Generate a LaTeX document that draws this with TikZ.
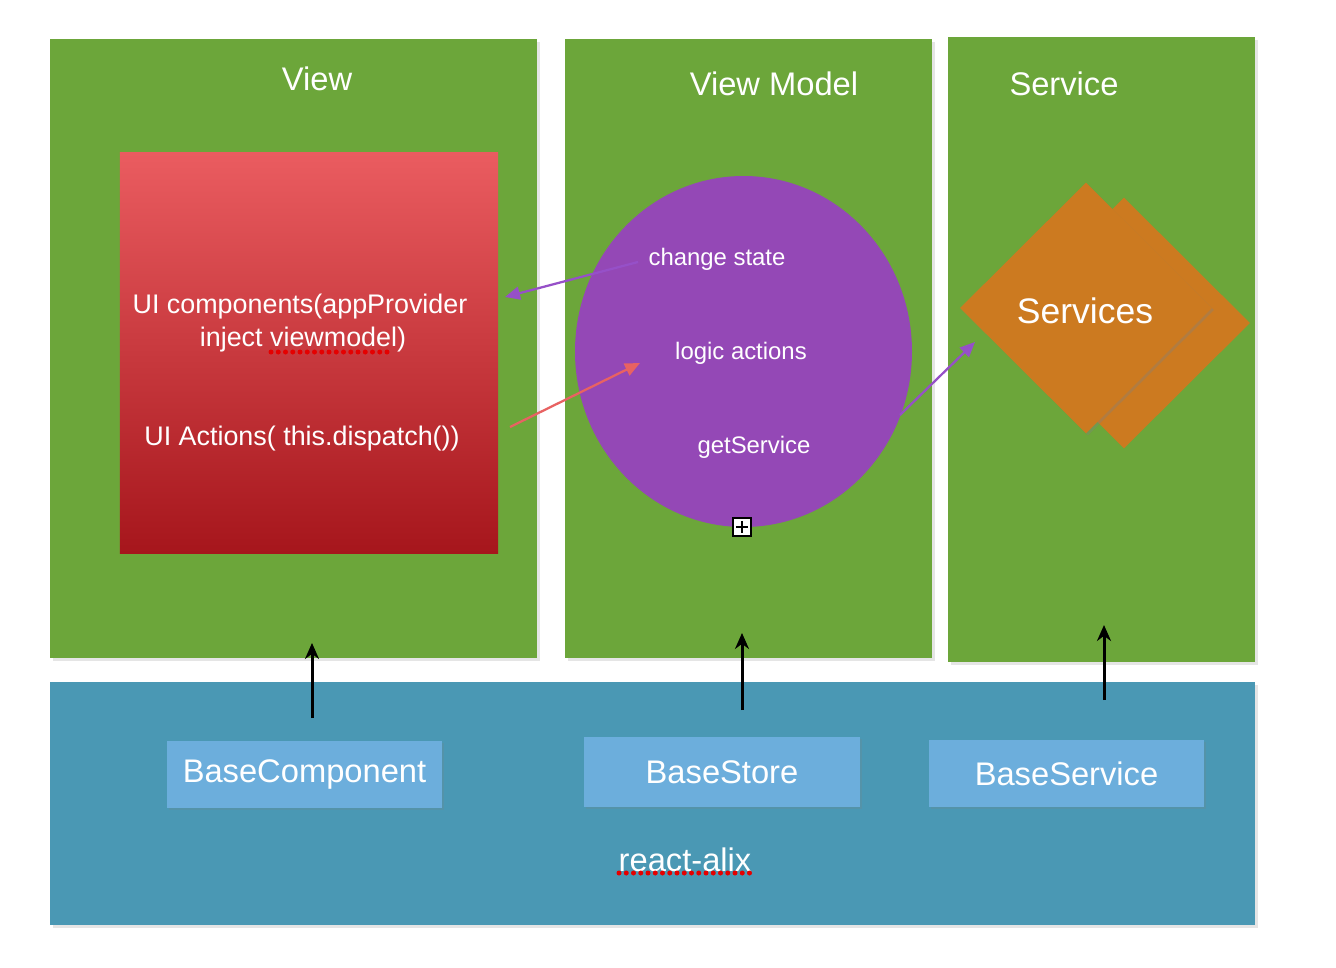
\documentclass[tikz,border=0pt]{standalone}
\usepackage{fontspec}
\setmainfont{Liberation Sans}
\usetikzlibrary{arrows.meta, shapes.geometric, shadows}
\definecolor{grass}{RGB}{108,166,58}
\definecolor{sea}{RGB}{74,152,180}
\definecolor{plum}{RGB}{148,72,182}
\definecolor{amber}{RGB}{204,122,32}
\definecolor{sky}{RGB}{108,174,220}
\definecolor{redtop}{RGB}{234,92,96}
\definecolor{redbot}{RGB}{166,22,28}
\definecolor{salmon}{RGB}{232,98,98}
\definecolor{lilac}{RGB}{150,80,200}

\begin{document}
\begin{tikzpicture}[x=0.2mm, y=-0.2mm,
	panel/.style={fill=grass, anchor=north west, inner sep=0,
		drop shadow={shadow xshift=0.5mm, shadow yshift=-0.5mm, opacity=0.2}},
	title/.style={text=white, inner sep=0, font=\fontsize{18.6}{22}\selectfont},
	label/.style={text=white, inner sep=0, font=\fontsize{15.3}{18}\selectfont},
	small/.style={text=white, inner sep=0, font=\fontsize{13.6}{16}\selectfont},
	base/.style={fill=sky, text=white, inner sep=0, font=\fontsize{18.6}{22}\selectfont,
		drop shadow={shadow xshift=0.4mm, shadow yshift=-0.4mm, opacity=0.2}},
	svcshape/.style={diamond, aspect=1, fill=amber, inner sep=0,
		minimum width=50.4mm, minimum height=50.2mm},
	uparrow/.style={line width=0.6mm, -{Stealth[length=3.2mm, width=2.8mm]}},
	thin/.style={line width=0.45mm, -{Triangle[length=3mm, width=2.6mm]}},
	typo/.style={red!90!black, line width=1mm, line cap=round, dash pattern=on 0pt off 1.45mm}
	]
	\useasboundingbox[fill=white] (0,0) rectangle (1336,968);
	% panels
	\node[panel, minimum width=97.4mm, minimum height=123.8mm] (view) at (50,39) {};
	\node[panel, minimum width=73.4mm, minimum height=123.8mm] (vmodel) at (565,39) {};
	\node[panel, minimum width=61.4mm, minimum height=125mm] (service) at (948,37) {};
	\node[panel, fill=sea, minimum width=241mm, minimum height=48.6mm] (alix) at (50,682) {};
	% titles
	\node[title] (viewt) at (317,79) {View};
	\node[title] (vmodelt) at (774,84) {View Model};
	\node[title] (servicet) at (1064,84) {Service};
	% view
	\node[top color=redtop, bottom color=redbot, inner sep=0,
		minimum width=75.6mm, minimum height=80mm] (ui) at (309,353) {};
	\node[label] (uicomp) at (300,307) {UI components(appProvider};
	\node[label] (uiinject) at (303,340) {inject viewmodel)};
	\node[label] (uiact) at (302,439) {UI Actions( this.dispatch())};
	\draw[typo] (271,352) -- (394,352);
	% view model
	\node[ellipse, fill=plum, inner sep=0, minimum width=67.4mm, minimum height=70.2mm] (vm) at (743.5,351.5) {};
	\node[small] (chg) at (717,259) {change state};
	\node[small] (logic) at (741,353) {logic actions};
	\node[small] (getsvc) at (754,447) {getService};
	\node[draw=black, fill=white, line width=0.3mm, inner sep=0, minimum size=3.6mm] (grow) at (742,527) {};
	\draw[line width=0.3mm] ([yshift=-0.7mm]grow.north) -- ([yshift=0.7mm]grow.south);
	\draw[line width=0.3mm] ([xshift=0.7mm]grow.west) -- ([xshift=-0.7mm]grow.east);
	% service
	\node[svcshape] (svcback) at (1124,323) {};
	\node[svcshape, drop shadow={shadow xshift=0.4mm, shadow yshift=-0.4mm, opacity=0.35}] (svc) at (1086,308) {};
	\node[text=white, inner sep=0, font=\fontsize{20.2}{24}\selectfont] (svct) at (1085,311) {Services};
	% arrows between layers
	\coordinate (chgout) at (638,262);
	\coordinate (uiin) at (505,297);
	\coordinate (actout) at (510,427);
	\coordinate (logicin) at (640,363);
	\coordinate (getout) at (900,415);
	\coordinate (svcin) at (975,342);
	\draw[thin, lilac] (chgout) -- (uiin);
	\draw[thin, salmon] (actout) -- (logicin);
	\draw[thin, lilac] (getout) -- (svcin);
	% react-alix
	\node[base, minimum width=55mm, minimum height=13.4mm] (bc) at (304.5,774.5) {BaseComponent};
	\node[base, minimum width=55.2mm, minimum height=14mm] (bs) at (722,772) {BaseStore};
	\node[base, minimum width=55mm, minimum height=13.4mm] (bsv) at (1066.5,773.5) {BaseService};
	\node[title] (alixt) at (685,860) {react-alix};
	\draw[typo] (619,873) -- (754,873);
	\coordinate (bcup) at (312,718);
	\coordinate (viewin) at (312,643);
	\coordinate (bsup) at (742,710);
	\coordinate (vmodelin) at (742,633);
	\coordinate (bsvup) at (1104,700);
	\coordinate (servicein) at (1104,625);
	\draw[uparrow] (bcup) -- (viewin);
	\draw[uparrow] (bsup) -- (vmodelin);
	\draw[uparrow] (bsvup) -- (servicein);
\end{tikzpicture}
\end{document}
